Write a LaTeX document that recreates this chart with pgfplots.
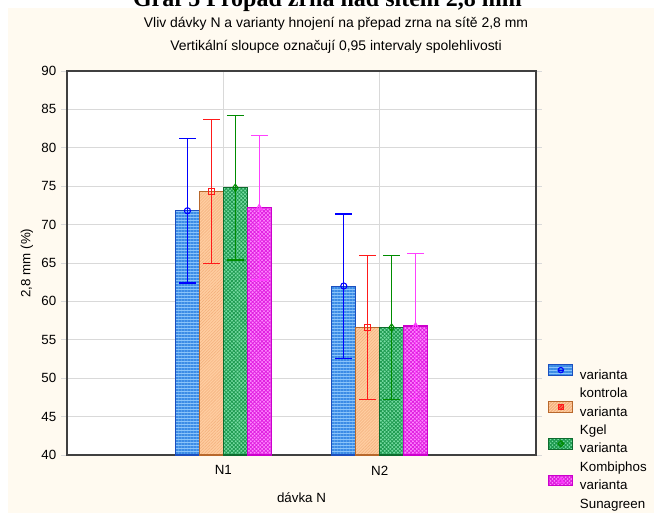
\documentclass[border=0pt]{standalone}
\usepackage{fontspec}
\setmainfont{Liberation Sans}
\newfontfamily\titlefont{Liberation Serif}
\usepackage{pgfplots}
\pgfplotsset{compat=1.18}
\usetikzlibrary{patterns.meta}

\definecolor{cream}{HTML}{FFFAF0}
\definecolor{axisgray}{HTML}{404040}
\definecolor{gridgray}{HTML}{D9D9D9}
\definecolor{bluefill}{HTML}{8AC4FA}
\definecolor{bluestripe}{HTML}{3C8CE6}
\definecolor{blueedge}{HTML}{1B4FBF}
\definecolor{orangefill}{HTML}{FFCDA0}
\definecolor{orangestripe}{HTML}{F2AE7A}
\definecolor{orangeedge}{HTML}{B8682C}
\definecolor{greenfill}{HTML}{78DCA4}
\definecolor{greenhatch}{HTML}{1E9A50}
\definecolor{greenedge}{HTML}{0E6B2E}
\definecolor{pinkfill}{HTML}{FF88FF}
\definecolor{pinkhatch}{HTML}{E020E0}
\definecolor{pinkedge}{HTML}{CC00CC}
\definecolor{errblue}{HTML}{0000FF}
\definecolor{errred}{HTML}{FF1A1A}
\definecolor{errgreen}{HTML}{008C00}
\definecolor{errpink}{HTML}{FF40FF}

\tikzset{
  bluebar/.style={fill=bluefill, draw=blueedge, line width=0.8pt,
    postaction={pattern={Lines[angle=0,distance=2.25pt,line width=0.9pt]}, pattern color=bluestripe}},
  orangebar/.style={fill=orangefill, draw=orangeedge, line width=0.8pt,
    postaction={pattern={Lines[angle=45,distance=1.6pt,line width=0.35pt]}, pattern color=orangestripe}},
  greenbar/.style={fill=greenfill, draw=greenedge, line width=0.8pt,
    postaction={pattern={Hatch[angle=45,distance=2pt,line width=0.6pt]}, pattern color=greenhatch}},
  pinkbar/.style={fill=pinkfill, draw=pinkedge, line width=0.8pt,
    postaction={pattern={Hatch[angle=45,distance=2pt,line width=0.6pt]}, pattern color=pinkhatch}},
}
\pgfplotsset{
  errstyle/.style={forget plot, only marks, color=#1, draw=#1, mark size=2.3pt,
    mark options={line width=0.8pt, draw=#1, fill=none},
    error bars/y dir=both, error bars/y explicit,
    error bars/error bar style={line width=1pt, draw=#1, color=#1},
    error bars/error mark options={rotate=90, mark size=6.25pt, line width=1pt, draw=#1, color=#1}},
}

\begin{document}
\begin{tikzpicture}
\useasboundingbox (0,0) rectangle (490.5pt,-384.75pt);
\fill[white] (0,0) rectangle (490.5pt,-384.75pt);
\fill[cream] (6pt,-6pt) rectangle (490.5pt,-384.75pt);
\begin{scope}
\clip (0,0) rectangle (490.5pt,-30pt);
\node[font=\titlefont\bfseries\fontsize{18}{18}\selectfont, anchor=base, inner sep=0pt] at (245.6pt,-5.25pt) {Graf 5 Propad zrna nad sítem 2,8 mm};
\end{scope}
\node[font=\fontsize{10.45}{12}\selectfont, anchor=center] at (252pt,-17.5pt) {Vliv dávky N a varianty hnojení na přepad zrna na sítě 2,8 mm};
\node[font=\fontsize{10.45}{12}\selectfont, anchor=center] at (252pt,-35pt) {Vertikální sloupce označují 0,95 intervaly spolehlivosti};

\begin{axis}[
  at={(50.25pt,-341.25pt)}, anchor=south west,
  scale only axis, width=351.75pt, height=288pt,
  xmin=0, xmax=3, ymin=40, ymax=90,
  xtick={1,2}, xticklabels={N1,N2},
  ytick={40,45,...,90},
  /pgf/number format/assume math mode=true,
  axis background/.style={fill=white},
  axis line style={draw=axisgray, line width=1.1pt},
  grid=major, grid style={draw=gridgray, line width=0.6pt},
  tick align=outside, major tick length=4.5pt,
  ytick style={draw=gridgray, line width=0.6pt},
  xtick style={draw=none},
  tick label style={font=\fontsize{10}{12}\selectfont},
  label style={font=\fontsize{10}{12}\selectfont},
  xlabel={dávka N},
  ylabel={2,8 mm (\%)},
  xlabel style={at={(axis description cs:0.5,-0.112)}, anchor=center},
  ylabel style={at={(axis description cs:-0.0853,0.5)}, anchor=center},
  legend style={at={(axis description cs:1,0.237)}, anchor=north west, xshift=9pt,
    draw=none, fill=none, inner sep=0pt, row sep=0.8pt,
    font=\fontsize{10}{14}\selectfont,
    nodes={inner sep=0pt, align=left},
    /tikz/every odd column/.append style={column sep=5pt}},
  legend cell align=left,
]
\addplot[ybar, bar width=0.153, bar shift=-0.2295, bluebar,
  legend image code/.code={
    \draw[bluebar] (0pt,5.75pt) rectangle (18pt,13.75pt);
    \draw[errblue, line width=0.6pt] (9pt,9.75pt) circle (2pt);}]
  coordinates {(1,71.8) (2,62.0)};
\addlegendentry{\strut varianta\\\strut kontrola}
\addplot[ybar, bar width=0.153, bar shift=-0.0765, orangebar,
  legend image code/.code={
    \draw[orangebar] (0pt,5.75pt) rectangle (18pt,13.75pt);
    \draw[errred, line width=0.6pt] (7.2pt,7.95pt) rectangle (10.8pt,11.55pt);}]
  coordinates {(1,74.3) (2,56.6)};
\addlegendentry{\strut varianta\\\strut Kgel}
\addplot[ybar, bar width=0.153, bar shift=0.0765, greenbar,
  legend image code/.code={
    \draw[greenbar] (0pt,5.75pt) rectangle (18pt,13.75pt);
    \draw[errgreen, line width=0.6pt] (9pt,11.95pt) -- (11.2pt,9.75pt) -- (9pt,7.55pt) -- (6.8pt,9.75pt) -- cycle;}]
  coordinates {(1,74.8) (2,56.6)};
\addlegendentry{\strut varianta\\\strut Kombiphos}
\addplot[ybar, bar width=0.153, bar shift=0.2295, pinkbar,
  legend image code/.code={
    \draw[pinkbar] (0pt,5.75pt) rectangle (18pt,13.75pt);
    \draw[errpink, line width=0.6pt] (9pt,11.95pt) -- (11pt,8.15pt) -- (7pt,8.15pt) -- cycle;}]
  coordinates {(1,72.2) (2,56.8)};
\addlegendentry{\strut varianta\\\strut Sunagreen}

% error bars (0.95 CI) and means
\addplot[errstyle=errblue, mark=o]
  coordinates {(0.7705,71.8) +- (0,9.4) (1.7705,62.0) +- (0,9.4)};
\addplot[errstyle=errred, mark=square]
  coordinates {(0.9235,74.3) +- (0,9.4) (1.9235,56.6) +- (0,9.4)};
\addplot[errstyle=errgreen, mark=diamond, mark size=2.7pt]
  coordinates {(1.0765,74.8) +- (0,9.4) (2.0765,56.6) +- (0,9.4)};
\addplot[errstyle=errpink, mark=triangle, mark size=2.5pt]
  coordinates {(1.2295,72.2) +- (0,9.4) (2.2295,56.8) +- (0,9.4)};
\end{axis}
\end{tikzpicture}
\end{document}
